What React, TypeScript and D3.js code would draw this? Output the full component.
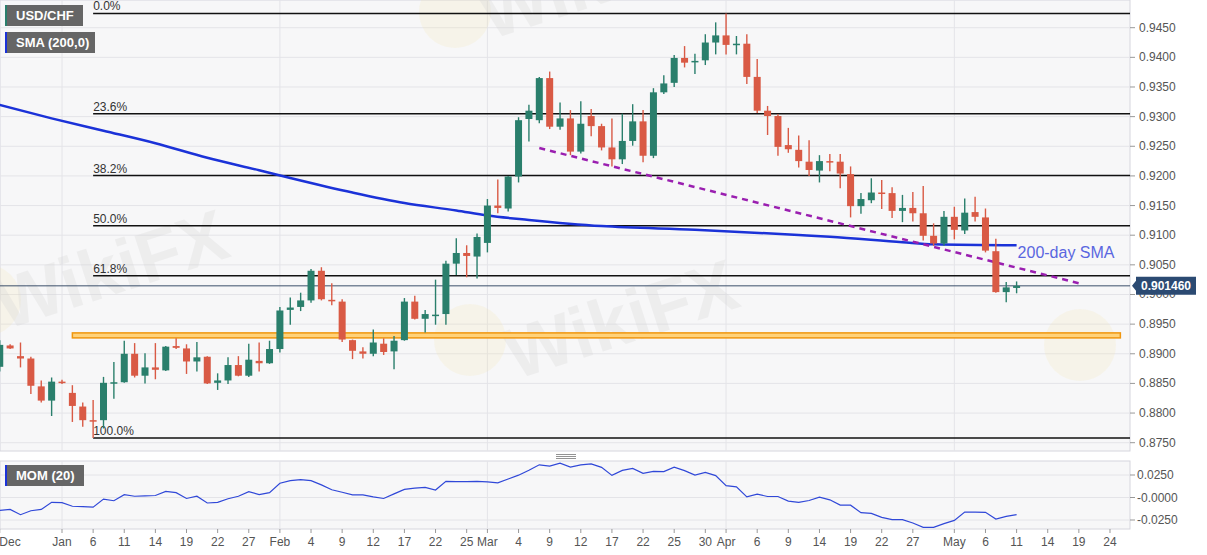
import * as d3 from 'd3'

// trading-day index: 0 = 21 Dec 2020, weekdays only
const candleStart = 3
const opens = [
  0.8878, 0.8914, 0.8896, 0.8892, 0.8845, 0.8821, 0.8853, 0.8834, 0.8811, 0.8788,
  0.8788, 0.8851, 0.8852, 0.8900, 0.8863, 0.8877, 0.8872, 0.8913, 0.8909, 0.8887,
  0.8895, 0.8851, 0.8855, 0.8881, 0.8863, 0.8888, 0.8884, 0.8908, 0.8974, 0.8979,
  0.8990, 0.9040, 0.8991, 0.8988, 0.8923, 0.8904, 0.8900, 0.8917, 0.8904, 0.8923,
  0.8988, 0.8959, 0.8964, 0.8967, 0.9052, 0.9070, 0.9064, 0.9087, 0.9150, 0.9145,
  0.9199, 0.9296, 0.9294, 0.9365, 0.9283, 0.9297, 0.9241, 0.9301, 0.9284, 0.9248,
  0.9228, 0.9259, 0.9292, 0.9234, 0.9341, 0.9357, 0.9399, 0.9392, 0.9395, 0.9425,
  0.9437, 0.9421, 0.9423, 0.9367, 0.9310, 0.9301, 0.9252, 0.9244, 0.9224, 0.9209,
  0.9225, 0.9224, 0.9203, 0.9149, 0.9159, 0.9172, 0.9171, 0.9141, 0.9146, 0.9137,
  0.9099, 0.9086, 0.9131, 0.9108, 0.9139, 0.9130, 0.9073, 0.9004, 0.9011,
]
const highs = [
  0.8923, 0.8916, 0.8919, 0.8895, 0.8855, 0.8860, 0.8856, 0.8847, 0.8818, 0.8822,
  0.8861, 0.8886, 0.8922, 0.8918, 0.8901, 0.8918, 0.8913, 0.8926, 0.8916, 0.8920,
  0.8896, 0.8867, 0.8894, 0.8896, 0.8917, 0.8919, 0.8922, 0.8979, 0.8995, 0.9003,
  0.9043, 0.9046, 0.9019, 0.8992, 0.8924, 0.8911, 0.8941, 0.8926, 0.8930, 0.8994,
  0.8998, 0.8974, 0.9025, 0.9057, 0.9095, 0.9083, 0.9103, 0.9161, 0.9194, 0.9200,
  0.9299, 0.9320, 0.9367, 0.9376, 0.9324, 0.9311, 0.9326, 0.9313, 0.9288, 0.9297,
  0.9305, 0.9321, 0.9311, 0.9348, 0.9370, 0.9404, 0.9419, 0.9406, 0.9439, 0.9459,
  0.9474, 0.9436, 0.9439, 0.9397, 0.9318, 0.9304, 0.9281, 0.9268, 0.9260, 0.9235,
  0.9237, 0.9237, 0.9216, 0.9171, 0.9196, 0.9193, 0.9181, 0.9168, 0.9173, 0.9183,
  0.9120, 0.9141, 0.9148, 0.9162, 0.9165, 0.9145, 0.9094, 0.9021, 0.9022,
]
const lows = [
  0.8870, 0.8908, 0.8877, 0.8832, 0.8818, 0.8795, 0.8849, 0.8785, 0.8777, 0.8758,
  0.8774, 0.8824, 0.8851, 0.8860, 0.8850, 0.8857, 0.8871, 0.8908, 0.8866, 0.8870,
  0.8849, 0.8839, 0.8849, 0.8862, 0.8861, 0.8870, 0.8883, 0.8902, 0.8949, 0.8972,
  0.8986, 0.8990, 0.8982, 0.8920, 0.8891, 0.8892, 0.8896, 0.8898, 0.8874, 0.8922,
  0.8958, 0.8936, 0.8949, 0.8949, 0.9033, 0.9029, 0.9027, 0.9071, 0.9137, 0.9140,
  0.9189, 0.9258, 0.9289, 0.9279, 0.9278, 0.9235, 0.9238, 0.9267, 0.9243, 0.9216,
  0.9220, 0.9251, 0.9223, 0.9230, 0.9338, 0.9350, 0.9383, 0.9372, 0.9387, 0.9405,
  0.9405, 0.9405, 0.9355, 0.9306, 0.9269, 0.9234, 0.9239, 0.9214, 0.9200, 0.9189,
  0.9208, 0.9179, 0.9130, 0.9136, 0.9154, 0.9144, 0.9129, 0.9122, 0.9123, 0.9091,
  0.9082, 0.9082, 0.9093, 0.9102, 0.9123, 0.9071, 0.9003, 0.8987, 0.9002,
]
const closes = [
  0.8915, 0.8909, 0.8892, 0.8846, 0.8821, 0.8853, 0.8852, 0.8812, 0.8788, 0.8787,
  0.8851, 0.8852, 0.8900, 0.8863, 0.8877, 0.8873, 0.8912, 0.8910, 0.8887, 0.8894,
  0.8850, 0.8855, 0.8881, 0.8863, 0.8890, 0.8884, 0.8908, 0.8973, 0.8978, 0.8990,
  0.9040, 0.8992, 0.8989, 0.8924, 0.8905, 0.8900, 0.8919, 0.8903, 0.8922, 0.8988,
  0.8959, 0.8967, 0.8966, 0.9052, 0.9070, 0.9065, 0.9097, 0.9150, 0.9146, 0.9199,
  0.9294, 0.9310, 0.9365, 0.9283, 0.9297, 0.9241, 0.9288, 0.9284, 0.9248, 0.9228,
  0.9259, 0.9292, 0.9234, 0.9341, 0.9356, 0.9399, 0.9391, 0.9394, 0.9425, 0.9437,
  0.9421, 0.9423, 0.9367, 0.9310, 0.9301, 0.9249, 0.9245, 0.9225, 0.9210, 0.9225,
  0.9224, 0.9204, 0.9149, 0.9161, 0.9172, 0.9171, 0.9141, 0.9146, 0.9137, 0.9099,
  0.9086, 0.9131, 0.9109, 0.9138, 0.9131, 0.9074, 0.9004, 0.9012, 0.90146,
]

const smaDays = [3, 8, 13, 18, 23, 28, 31, 37, 42, 47, 50, 54, 61, 70, 80, 83, 90, 93, 101]
const smaValues = [
  0.93197, 0.92971, 0.92762, 0.92551, 0.92306, 0.92095, 0.91965, 0.91719, 0.91542, 0.91417,
  0.91332, 0.91258, 0.91154, 0.91093, 0.91004, 0.90975, 0.90882, 0.90847, 0.9083,
]

const momStart = 3
const momValues = [
  -0.0144, -0.0133, -0.0191, -0.0147, -0.0133, -0.0054, -0.0058, -0.0097, -0.0101, -0.0108,
  -0.0018, -0.0036, 0.0032, 0.0014, 0.0018, 0.0022, 0.0068, 0.0054, -0.0011, 0.0014,
  -0.0061, -0.0054, -0.0014, 0.0014, 0.0065, 0.0032, 0.0054, 0.0158, 0.0187, 0.0198,
  0.0187, 0.014, 0.0086, 0.0058, 0.0029, 0.0029, 0.0007, -0.0011, 0.004, 0.009,
  0.0104, 0.0112, 0.0083, 0.018, 0.0176, 0.0176, 0.018, 0.0173, 0.0162, 0.0205,
  0.0248, 0.0302, 0.0363, 0.0349, 0.0381, 0.0338, 0.0363, 0.0374, 0.0335, 0.0246,
  0.0301, 0.0324, 0.0268, 0.029, 0.0287, 0.0338, 0.0298, 0.025, 0.0279, 0.0243,
  0.0132, 0.0118, 0.0007, 0.0037, 0.0011, 0.0011, -0.004, -0.0055, -0.0033, 0.0004,
  -0.0026, -0.0085, -0.0085, -0.0169, -0.0176, -0.0221, -0.0246, -0.0246, -0.0283, -0.0331,
  -0.0331, -0.029, -0.0254, -0.0162, -0.0162, -0.0165, -0.0239, -0.021, -0.0191,
]

const tickLabels = [
  'Dec', 'Jan', '6', '11', '14', '19', '22', '27', 'Feb', '4', '9', '12', '17', '22', '25',
  'Mar', '4', '9', '12', '17', '22', '25', '30', 'Apr', '6', '9', '14', '19', '22', '27',
  'May', '6', '11', '14', '19', '24',
]
const tickDays = [
  3, 9, 12, 15, 18, 21, 24, 27, 30, 33, 36, 39, 42, 45, 48,
  50, 53, 56, 59, 62, 65, 68, 71, 73, 76, 79, 82, 85, 88, 91,
  95, 98, 101, 104, 107, 110,
]
const monthDays = [9, 30, 50, 73, 95]

const fibLevels = [0, 0.236, 0.382, 0.5, 0.618, 1]
const fibHigh = 0.9474
const fibLow = 0.8758
const fibStartDay = 12

const trendDays = [55, 107]
const trendValues = [0.9247, 0.9019]
const supportLevel = 0.8931
const supportDays = [10, 111]
const lastPrice = 0.90146

const priceTicks = d3.range(0.875, 0.9451, 0.005)
const momTicks = [0.025, 0, -0.025]

const UP = '#2a7f6c'
const DOWN = '#d95a45'
const FONT = '"Liberation Sans", Arial, sans-serif'

export default function App() {
  const W = 1207
  const H = 555
  const plotR = 1130
  const mainTop = 0
  const mainBot = 451
  const momTop = 461
  const momBot = 529

  const x = d3.scaleLinear().domain([9, 101]).range([62, 1016.6])
  const y = d3.scaleLinear().domain([0.875, 0.945]).range([442.7, 27.7])
  const my = d3.scaleLinear().domain([-0.025, 0.025]).range([520, 475])

  const candles = opens.map((o, i) => ({
    d: candleStart + i, o, h: highs[i], l: lows[i], c: closes[i],
  }))

  const smaLine = d3.line<number>()
    .x((_, i) => x(smaDays[i]))
    .y(v => y(v))
    .curve(d3.curveMonotoneX)

  const momLine = d3.line<number>()
    .x((_, i) => x(momStart + i))
    .y(v => my(v))

  const bodyW = 7
  const fmt = d3.format('.4f')
  const momFmt = (v: number) => (v > 0 ? '' : '-') + Math.abs(v).toFixed(4)

  // faint site watermark
  const watermark = (cx: number, cy: number, tx: number, ty: number, key: string) => (
    <g key={key}>
      <circle cx={cx} cy={cy} r={36} fill="#f4e2a6" opacity={0.18} />
      <text x={tx} y={ty} fontSize={72} fontWeight="bold" fontFamily={FONT}
        fill="#d4d4d4" opacity={0.28} transform={`rotate(-18 ${tx} ${ty})`}>WikiFX</text>
    </g>
  )

  const py = y(lastPrice)

  return (
    <svg width={W} height={H} style={{ position: 'absolute', left: 0, top: 0, background: '#fff' }}
      fontFamily={FONT}>
      <defs>
        <clipPath id="mainClip"><rect x={0} y={mainTop} width={plotR} height={mainBot - mainTop} /></clipPath>
        <clipPath id="momClip"><rect x={0} y={momTop} width={plotR} height={momBot - momTop} /></clipPath>
      </defs>

      {/* panels */}
      <rect x={0} y={mainTop} width={plotR} height={mainBot - mainTop} fill="#f7f7f8" stroke="#d6d6de" />
      <rect x={0} y={momTop} width={plotR} height={momBot - momTop} fill="#f7f7f8" stroke="#d6d6de" />

      <g clipPath="url(#mainClip)">
        {priceTicks.map(t => (
          <line key={t} x1={0} x2={plotR} y1={y(t)} y2={y(t)} stroke="#e4e4e8" />
        ))}
        {monthDays.map(d => (
          <line key={d} x1={x(d)} x2={x(d)} y1={mainTop} y2={mainBot} stroke="#e4e4e8" />
        ))}

        {watermark(455, 12, 490, 40, 'w1')}
        {watermark(-15, 300, 5, 330, 'w2')}
        {watermark(470, 340, 515, 380, 'w3')}
        {watermark(1080, 345, 1150, 385, 'w4')}

        {/* support band */}
        <rect x={x(supportDays[0])} width={x(supportDays[1]) - x(supportDays[0])}
          y={y(supportLevel) - 2.5} height={5} fill="#ffd27a" stroke="#f0960e" strokeWidth={1.5} />

        {/* fibonacci levels */}
        {fibLevels.map(f => {
          const yy = y(fibHigh - (fibHigh - fibLow) * f)
          return (
            <g key={f}>
              <line x1={x(fibStartDay)} x2={plotR} y1={yy} y2={yy} stroke="#111" strokeWidth={1.5} />
              <text x={x(fibStartDay)} y={yy - 3} fontSize={12} fill="#333">{(f * 100).toFixed(1)}%</text>
            </g>
          )
        })}

        {/* last price line */}
        <line x1={0} x2={plotR} y1={py} y2={py} stroke="#3c506a" strokeWidth={1} />

        {/* SMA */}
        <path d={smaLine(smaValues) ?? ''} fill="none" stroke="#1b32d8" strokeWidth={2.5} />

        {/* trend line */}
        <line x1={x(trendDays[0])} y1={y(trendValues[0])} x2={x(trendDays[1])} y2={y(trendValues[1])}
          stroke="#9a1fb0" strokeWidth={2.5} strokeDasharray="6,5" />

        {/* candles */}
        {candles.map(k => {
          const col = k.c >= k.o ? UP : DOWN
          const top = y(Math.max(k.o, k.c))
          const bot = y(Math.min(k.o, k.c))
          return (
            <g key={k.d}>
              <line x1={x(k.d)} x2={x(k.d)} y1={y(k.h)} y2={y(k.l)} stroke={col} strokeWidth={1.4} />
              <rect x={x(k.d) - bodyW / 2} y={top} width={bodyW} height={Math.max(1.5, bot - top)} fill={col} />
            </g>
          )
        })}

        <text x={x(101) + 1} y={y(0.9083) + 13} fontSize={16} fill="#5a66e0">200-day SMA</text>
      </g>

      {/* price axis */}
      {priceTicks.map(t => (
        <g key={t}>
          <line x1={plotR} x2={plotR + 5} y1={y(t)} y2={y(t)} stroke="#999" />
          <text x={plotR + 9} y={y(t) + 4} fontSize={12} fill="#555">{fmt(t)}</text>
        </g>
      ))}
      <path d={`M${plotR + 2},${py} L${plotR + 6},${py - 5} L${plotR + 6},${py - 9} L${plotR + 66},${py - 9} L${plotR + 66},${py + 9} L${plotR + 6},${py + 9} L${plotR + 6},${py + 5} Z`}
        fill="#2b4a72" />
      <text x={plotR + 36} y={py + 4.5} fontSize={12} fontWeight="bold" fill="#fff" textAnchor="middle">
        {lastPrice.toFixed(6)}
      </text>

      {/* momentum panel */}
      <g clipPath="url(#momClip)">
        {momTicks.map(t => (
          <line key={t} x1={0} x2={plotR} y1={my(t)} y2={my(t)} stroke="#e4e4e8" />
        ))}
        {monthDays.map(d => (
          <line key={d} x1={x(d)} x2={x(d)} y1={momTop} y2={momBot} stroke="#e4e4e8" />
        ))}
        <path d={momLine(momValues) ?? ''} fill="none" stroke="#3048d8" strokeWidth={1.2} />
      </g>
      {momTicks.map(t => (
        <g key={t}>
          <line x1={plotR} x2={plotR + 5} y1={my(t)} y2={my(t)} stroke="#999" />
          <text x={plotR + 7} y={my(t) + 4} fontSize={12} fill="#555">{momFmt(t)}</text>
        </g>
      ))}
      {[0, 2, 4].map(o => (
        <line key={o} x1={556} x2={576} y1={454.5 + o} y2={454.5 + o} stroke="#777" strokeWidth={0.8} />
      ))}

      {/* time axis */}
      {tickDays.map((d, i) => (
        <g key={i}>
          <line x1={x(d)} x2={x(d)} y1={momBot} y2={momBot + 4} stroke="#999" />
          <text x={Math.max(10, x(d))} y={546} fontSize={12} fill="#555" textAnchor="middle">{tickLabels[i]}</text>
        </g>
      ))}

      {/* legend boxes */}
      <g>
        <rect x={5} y={5} width={78} height={21} fill="#666" />
        <rect x={5} y={5} width={2} height={21} fill={UP} />
        <text x={16} y={20} fontSize={13} fontWeight="bold" fill="#fff">USD/CHF</text>
        <rect x={5} y={32} width={90} height={21} fill="#666" />
        <rect x={5} y={32} width={2} height={21} fill="#1b32d8" />
        <text x={16} y={47} fontSize={13} fontWeight="bold" fill="#fff">SMA (200,0)</text>
        <rect x={5} y={465} width={79} height={21} fill="#666" />
        <rect x={5} y={465} width={2} height={21} fill="#1b32d8" />
        <text x={16} y={480} fontSize={13} fontWeight="bold" fill="#fff">MOM (20)</text>
      </g>
    </svg>
  )
}
